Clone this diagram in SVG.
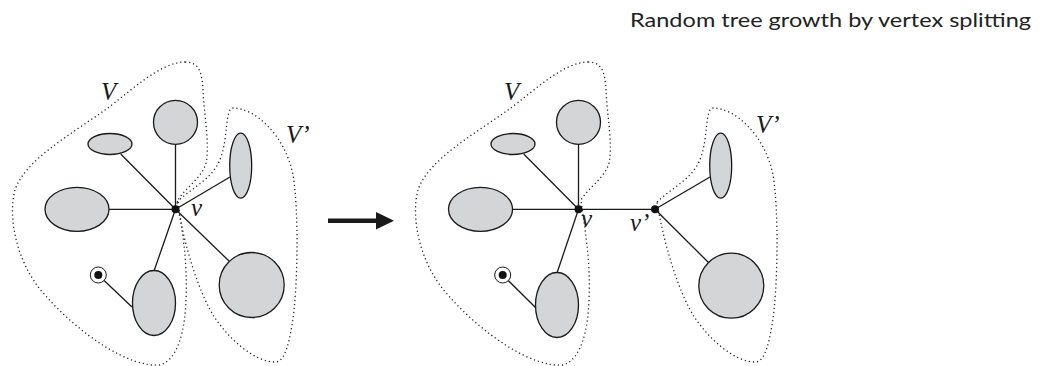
<svg xmlns="http://www.w3.org/2000/svg" width="1040" height="366" viewBox="0 0 1040 366">
<style>
.edge{stroke:#1a1a1a;stroke-width:1.3;fill:none}
.blob{fill:#d4d5d7;stroke:#1a1a1a;stroke-width:1.3}
.dot{fill:#111}
.contour{fill:none;stroke:#222;stroke-width:1.3;stroke-dasharray:1.2 2.9}
.lbl{font-family:"Liberation Serif",serif;font-style:italic;font-size:25px;fill:#1a1a1a}
.title{font-family:Lato,"Liberation Sans",sans-serif;font-size:20px;fill:#222}
</style>
<defs>
<path id="vpath" d="M 185,62 C 199,62 202,72 203,90 C 204,115 210,145 206,163 C 202,178 185,188 178,200 C 181,225 188,260 186,300 C 185,330 178,360 160,365 C 130,368 80,335 45,295 C 15,262 8,215 15,190 C 25,160 70,135 105,110 C 130,92 160,62 185,62 Z"/>
<path id="vppath" d="M 177,202 C 193,187 214,178 221,157 C 228,138 225,108 233,108 C 255,108 285,135 293,175 C 299,210 298,290 292,325 C 288,350 283,362 275,362 C 255,362 230,340 215,318 C 200,295 185,250 177,202 Z"/>
</defs>
<text class="title" x="1031" y="27" text-anchor="end" textLength="401" lengthAdjust="spacingAndGlyphs">Random tree growth by vertex splitting</text>
<g id="contours">
<use href="#vpath" class="contour"/>
<use href="#vppath" class="contour"/>
<use href="#vpath" class="contour" transform="translate(403,0)"/>
<use href="#vppath" class="contour" transform="translate(480,0)"/>
</g>
<g id="connectors">
<line class="edge" x1="175.5" y1="209.3" x2="175.5" y2="144"/>
<line class="edge" x1="175.5" y1="209.3" x2="120.7" y2="154"/>
<line class="edge" x1="175.5" y1="209.3" x2="109" y2="209.3"/>
<line class="edge" x1="175.5" y1="209.3" x2="230" y2="177"/>
<line class="edge" x1="175.5" y1="209.3" x2="229" y2="261"/>
<line class="edge" x1="175.5" y1="209.3" x2="154" y2="271"/>
<line class="edge" x1="98.3" y1="275" x2="132" y2="307"/>
<line class="edge" x1="578.5" y1="209.3" x2="578.5" y2="144"/>
<line class="edge" x1="578.5" y1="209.3" x2="523.7" y2="154"/>
<line class="edge" x1="578.5" y1="209.3" x2="512" y2="209.3"/>
<line class="edge" x1="578.5" y1="209.3" x2="557" y2="273"/>
<line class="edge" x1="502.7" y1="275" x2="536" y2="308"/>
<line class="edge" x1="578.5" y1="209.3" x2="655" y2="209.3"/>
<line class="edge" x1="655" y1="209.3" x2="710" y2="177"/>
<line class="edge" x1="655" y1="209.3" x2="709" y2="263"/>
<line x1="328" y1="220.7" x2="378" y2="220.7" stroke="#1a1a1a" stroke-width="4.5"/>
<polygon points="376,212 394,220.7 376,229.4" fill="#1a1a1a"/>
</g>
<g id="left-tree">
<g id="L-top"><circle class="blob" cx="175.5" cy="122.3" r="22"/></g>
<g id="L-small"><ellipse class="blob" cx="110" cy="144" rx="22" ry="10.5"/></g>
<g id="L-big"><ellipse class="blob" cx="77" cy="209.3" rx="32" ry="22"/></g>
<g id="L-narrow"><ellipse class="blob" cx="240.7" cy="165.7" rx="11" ry="32.5"/></g>
<g id="L-circle"><circle class="blob" cx="251.7" cy="285" r="32.5"/></g>
<g id="L-bottom"><ellipse class="blob" cx="154" cy="303" rx="21.5" ry="32.5"/></g>
<g id="L-root"><circle cx="98.3" cy="275" r="8" fill="#fff" stroke="#1a1a1a" stroke-width="1"/><circle class="dot" cx="98.3" cy="275" r="4"/></g>
<g id="L-v"><circle class="dot" cx="175.5" cy="209.3" r="4"/></g>
<text class="lbl" x="101" y="100">V</text>
<text class="lbl" x="286" y="143">V’</text>
<text class="lbl" x="191" y="216">v</text>
</g>
<g id="right-tree">
<g id="R-top"><circle class="blob" cx="578.5" cy="122.3" r="22"/></g>
<g id="R-small"><ellipse class="blob" cx="513" cy="144" rx="22" ry="10.5"/></g>
<g id="R-big"><ellipse class="blob" cx="480.5" cy="209.3" rx="32" ry="22"/></g>
<g id="R-narrow"><ellipse class="blob" cx="720.7" cy="165.7" rx="11" ry="32.5"/></g>
<g id="R-circle"><circle class="blob" cx="731.3" cy="285.7" r="32.5"/></g>
<g id="R-bottom"><ellipse class="blob" cx="557" cy="305" rx="21.5" ry="32.5"/></g>
<g id="R-root"><circle cx="502.7" cy="275" r="8" fill="#fff" stroke="#1a1a1a" stroke-width="1"/><circle class="dot" cx="502.7" cy="275" r="4"/></g>
<g id="R-v"><circle class="dot" cx="578.5" cy="209.3" r="4"/></g>
<g id="R-vp"><circle class="dot" cx="655" cy="209.3" r="4"/></g>
<text class="lbl" x="504" y="100">V</text>
<text class="lbl" x="756" y="133">V’</text>
<text class="lbl" x="581" y="227">v</text>
<text class="lbl" x="630" y="231">v’</text>
</g>
</svg>
